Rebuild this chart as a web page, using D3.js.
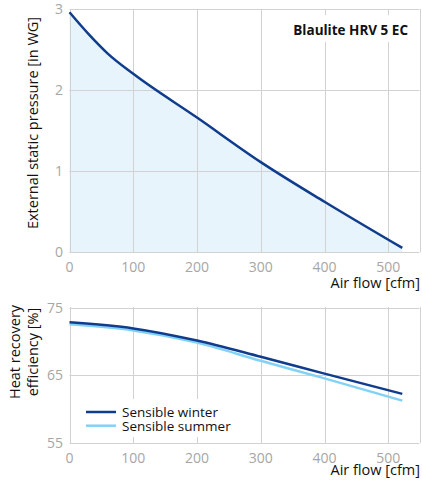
<!DOCTYPE html>
<html>
<head>
<meta charset="utf-8">
<script src="https://cdn.jsdelivr.net/npm/d3@7"></script>
<style>
  body { margin: 0; background: #fff; }
  svg { display: block; font-family: "Open Sans", sans-serif; }
</style>
</head>
<body>
<div id="chart"></div>
<script>
//data
var airflowTicks = [0, 100, 200, 300, 400, 500];
var pressureTicks = [0, 1, 2, 3];
var efficiencyTicks = [55, 65, 75];

var pressureFlow = [0, 30, 60, 100, 200, 300, 400, 522];
var pressureValues = [2.96, 2.69, 2.45, 2.2, 1.66, 1.11, 0.62, 0.05];

var effFlow = [0, 100, 200, 300, 400, 522];
var winterValues = [72.8, 71.9, 70.1, 67.7, 65.2, 62.2];
var summerValues = [72.5, 71.6, 69.8, 67.1, 64.5, 61.2];

var seriesNames = ["Sensible winter", "Sensible summer"];
var seriesColors = ["#0f3c8c", "#82d2f5"];

//globals
var width = 422;
var height = 481;
var gridColor = "#d2d2d2";
var tickColor = "#a6a6a6";

var svg = d3.select("#chart")
    .append("svg")
    .attr("width", width)
    .attr("height", height);

var x = d3.scaleLinear().domain([0, 549]).range([69.5, 419.5]);

function grid(g, yScale, yTicks, y0, y1, labelOffset) {
    // vertical grid
    g.selectAll(".vgrid")
        .data(airflowTicks.concat([549]))
        .enter()
        .append("line")
        .attr("x1", function(d) { return Math.round(x(d)) + 0.5; })
        .attr("x2", function(d) { return Math.round(x(d)) + 0.5; })
        .attr("y1", y0)
        .attr("y2", y1)
        .attr("stroke", gridColor);
    g.selectAll(".hgrid")
        .data(yTicks)
        .enter()
        .append("line")
        .attr("x1", x(0))
        .attr("x2", x(549))
        .attr("y1", function(d) { return Math.round(yScale(d)) + 0.5; })
        .attr("y2", function(d) { return Math.round(yScale(d)) + 0.5; })
        .attr("stroke", gridColor);

    g.selectAll(".ylab")
        .data(yTicks)
        .enter()
        .append("text")
        .attr("x", 63)
        .attr("y", function(d) { return yScale(d) + 5; })
        .attr("text-anchor", "end")
        .style("font-size", "14px")
        .attr("fill", tickColor)
        .text(function(d) { return d; });

    g.selectAll(".xlab")
        .data(airflowTicks)
        .enter()
        .append("text")
        .attr("x", function(d) { return x(d); })
        .attr("y", y1 + 20)
        .attr("text-anchor", "middle")
        .style("font-size", "14px")
        .attr("fill", tickColor)
        .text(function(d) { return d; });

    g.append("text")
        .attr("x", 420)
        .attr("y", y1 + labelOffset)
        .attr("text-anchor", "end")
        .style("font-size", "14.5px")
        .attr("fill", "#111")
        .text("Air flow [cfm]");
}

//pressure panel
var yP = d3.scaleLinear().domain([0, 3]).range([252, 9]);
var topPanel = svg.append("g");

var pts = pressureFlow.map(function(f, i) { return [f, pressureValues[i]]; });

topPanel.append("path")
    .datum(pts)
    .attr("fill", "#e8f4fc")
    .attr("d", d3.area()
        .x(function(d) { return x(d[0]); })
        .y0(yP(0))
        .y1(function(d) { return yP(d[1]); })
        .curve(d3.curveMonotoneX));

grid(topPanel, yP, pressureTicks, 9, 252, 36);

topPanel.append("rect")
    .attr("x", 276).attr("y", 15)
    .attr("width", 136).attr("height", 27)
    .attr("fill", "#fff");
topPanel.append("text")
    .attr("x", 408)
    .attr("y", 35)
    .attr("text-anchor", "end")
    .style("font-size", "13.5px")
    .style("font-weight", "bold")
    .attr("fill", "#111")
    .text("Blaulite HRV 5 EC");

topPanel.append("path")
    .datum(pts)
    .attr("fill", "none")
    .attr("stroke", seriesColors[0])
    .attr("stroke-width", 2.5)
    .attr("d", d3.line()
        .x(function(d) { return x(d[0]); })
        .y(function(d) { return yP(d[1]); })
        .curve(d3.curveMonotoneX));

topPanel.append("text")
    .attr("transform", "translate(38,123) rotate(-90)")
    .attr("text-anchor", "middle")
    .style("font-size", "14.5px")
    .attr("fill", "#111")
    .text("External static pressure [in WG]");

//efficiency panel
var yE = d3.scaleLinear().domain([55, 75]).range([442.5, 307.5]);
var bottomPanel = svg.append("g");
grid(bottomPanel, yE, efficiencyTicks, 307, 443, 32);

var seriesValues = [winterValues, summerValues];
var line = d3.line()
    .x(function(d) { return x(d[0]); })
    .y(function(d) { return yE(d[1]); })
    .curve(d3.curveMonotoneX);

// draw summer first so winter is on top
[1, 0].forEach(function(s) {
    bottomPanel.append("path")
        .datum(effFlow.map(function(f, i) { return [f, seriesValues[s][i]]; }))
        .attr("fill", "none")
        .attr("stroke", seriesColors[s])
        .attr("stroke-width", 2.5)
        .attr("d", line);
});

bottomPanel.append("text")
    .attr("transform", "translate(20,352) rotate(-90)")
    .attr("text-anchor", "middle")
    .style("font-size", "14.5px")
    .attr("fill", "#111")
    .text("Heat recovery");
bottomPanel.append("text")
    .attr("transform", "translate(38,352) rotate(-90)")
    .attr("text-anchor", "middle")
    .style("font-size", "14.5px")
    .attr("fill", "#111")
    .text("efficiency [%]");

//legend
var legend = bottomPanel.append("g");
legend.append("rect")
    .attr("x", 80).attr("y", 399)
    .attr("width", 152).attr("height", 38)
    .attr("fill", "#fff");
var item = legend.selectAll(".item")
    .data(seriesNames)
    .enter()
    .append("g")
    .attr("transform", function(d, i) { return "translate(0," + (412 + i * 13.7) + ")"; });
item.append("line")
    .attr("x1", 86).attr("x2", 116)
    .attr("stroke", function(d, i) { return seriesColors[i]; })
    .attr("stroke-width", 2.5);
item.append("text")
    .attr("x", 122)
    .attr("y", 5)
    .style("font-size", "13.5px")
    .attr("fill", "#111")
    .text(function(d) { return d; });
</script>
</body>
</html>
